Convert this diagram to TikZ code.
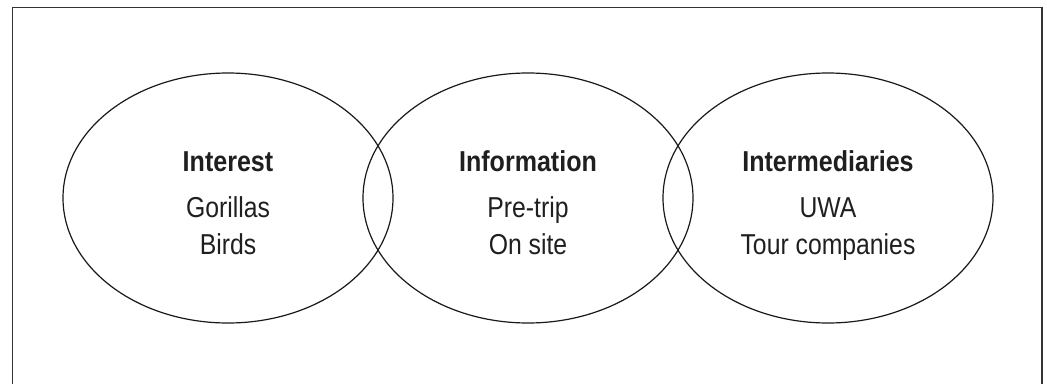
\documentclass[tikz,border=0pt]{standalone}
\usepackage{fontspec}
\setmainfont{Liberation Sans}[FakeStretch=0.86,BoldFeatures={FakeStretch=0.87}]
\usetikzlibrary{shapes.geometric}
\tikzset{
  frameline/.style={draw=black!80, line width=1.6pt},
  venn/.style={ellipse, draw=black!90, line width=1.2pt, minimum width=330pt, minimum height=250pt, inner sep=0pt},
  title/.style={anchor=base, font=\fontsize{28.8}{30}\selectfont\bfseries, text=black!88, inner sep=0pt},
  items/.style={anchor=base, align=center, font=\fontsize{28.8}{37.5}\selectfont, text=black!88, inner sep=0pt}
}
\begin{document}
\begin{tikzpicture}[x=1pt,y=-1pt]
\useasboundingbox (0,0) rectangle (1047,383);
\coordinate (bl) at (12.5,384);
\coordinate (tl) at (12.5,7.5);
\coordinate (tr) at (1042,7.5);
\coordinate (br) at (1042,384);
\draw[frameline] (bl) -- (tl) -- (tr) -- (br);
\node[venn] (e1) at (228,198) {};
\node[venn] (e2) at (528,198) {};
\node[venn] (e3) at (828,198) {};
\node[title] (t1) at (228,171.5) {Interest};
\node[title] (t2) at (528,171.5) {Information};
\node[title] (t3) at (828,171.5) {Intermediaries};
\node[items] (i1) at (228,254.5) {Gorillas\\Birds};
\node[items] (i2) at (528,254.5) {Pre-trip\\On site};
\node[items] (i3) at (828,254.5) {UWA\\Tour companies};
\end{tikzpicture}
\end{document}
